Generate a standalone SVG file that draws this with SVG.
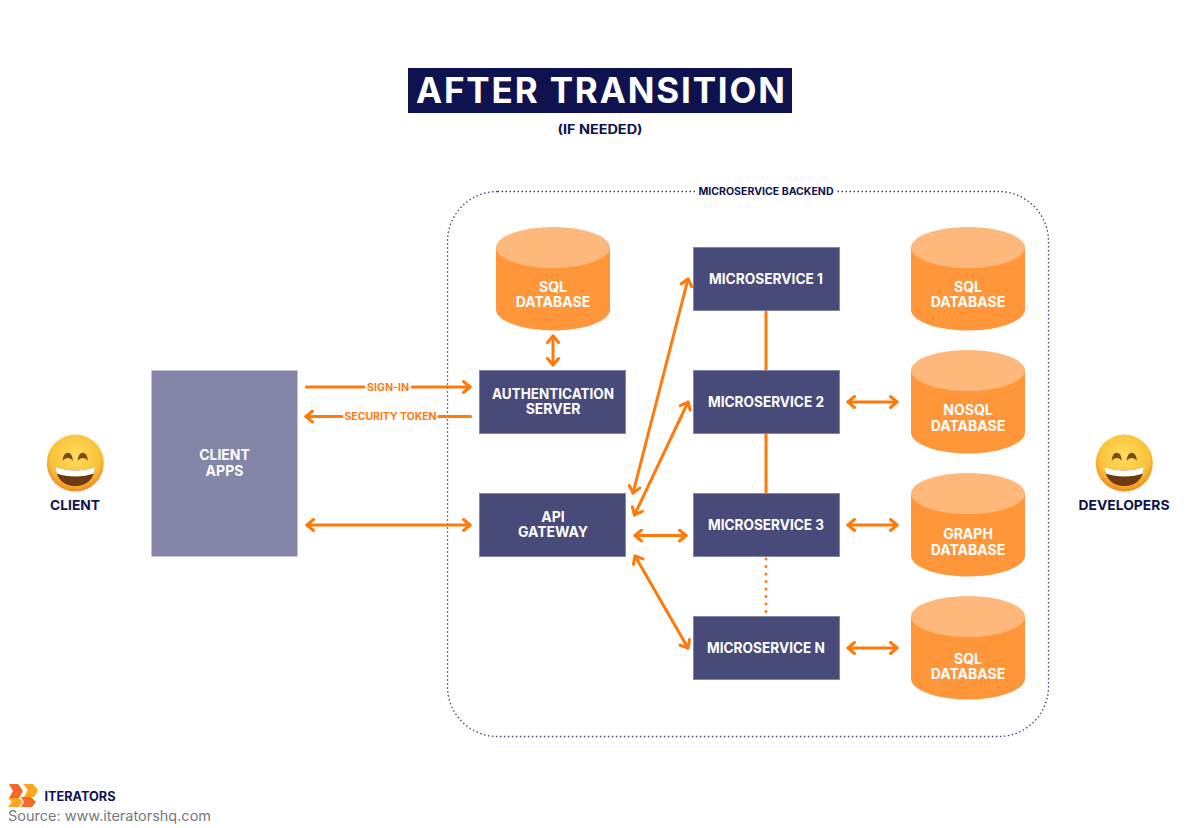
<svg xmlns="http://www.w3.org/2000/svg" width="1200" height="828" viewBox="0 0 1200 828">
<style>
text{font-family:"Inter","Liberation Sans",sans-serif;font-weight:700;text-anchor:middle}
.lbl{font-size:14px;fill:#fff}
.cap{font-size:13.5px;fill:#0e1350}
.box{fill:#484b7a;stroke:#8386a8;stroke-width:1}
.wire{fill:none;stroke:#ff7a0a;stroke-width:3;stroke-linecap:round}
.arrow{marker-start:url(#ah);marker-end:url(#ah)}
.one{marker-end:url(#ah)}
.cyl{fill:#ff963a}
.top{fill:#ffb87c}
.tag{font-size:10px;fill:#ff7a0a}
</style>
<defs>
<marker id="ah" viewBox="-9 -7 11 14" refX="0" refY="0" markerWidth="11" markerHeight="14" markerUnits="userSpaceOnUse" orient="auto-start-reverse">
<path d="M-6.500,-5.500L0,0L-6.500,5.500" fill="none" stroke="#ff7a0a" stroke-width="3" stroke-linecap="round" stroke-linejoin="round"/>
</marker>
<radialGradient id="face" cx="50%" cy="38%" r="62%">
<stop offset="0" stop-color="#fedc5c"/><stop offset="0.7" stop-color="#fbc23a"/><stop offset="1" stop-color="#ee8a1e"/>
</radialGradient>
<g id="emoji">
<circle cx="0" cy="0" r="28.500" fill="url(#face)"/>
<path d="M-12.500,-2C-12.500,-13 -2.500,-13 -2.500,-2C-4.500,-6 -10.500,-6 -12.500,-2Z" fill="#7a4a1a"/>
<path d="M2.500,-2C2.500,-13 12.500,-13 12.500,-2C10.500,-6 4.500,-6 2.500,-2Z" fill="#7a4a1a"/>
<path d="M-19.500,4C-8,8.500 8,8.500 19.500,4C19.500,16 11,23 0,23C-11,23 -19.500,16 -19.500,4Z" fill="#6e3a12"/>
<path d="M-19.500,4C-8,8.500 8,8.500 19.500,4C19.500,7 19,9 18.500,10.500C8,14.500 -8,14.500 -18.500,10.500C-19,9 -19.500,7 -19.500,4Z" fill="#fff"/>
</g>
<g id="db">
<path class="cyl" d="M-57,21V83C-57,94.500 -31.500,104 0,104C31.500,104 57,94.500 57,83V21Z"/>
<ellipse class="top" cx="0" cy="21" rx="57" ry="20.500"/>
</g>
</defs>
<rect width="1200" height="828" fill="#fff"/>

<g id="title">
<rect x="408" y="68" width="384" height="45" fill="#0e1350"/>
<text x="600.500" y="103" font-size="35" fill="#fff" textLength="369" lengthAdjust="spacing">AFTER TRANSITION</text>
<text x="600" y="134" font-size="12.500" fill="#0e1350" textLength="85" lengthAdjust="spacingAndGlyphs">(IF NEEDED)</text>
</g>

<g id="backend">
<rect x="447.500" y="191.500" width="601" height="545" rx="50" ry="50" fill="none" stroke="#3c3f75" stroke-width="1.300" stroke-dasharray="1.500 2.500"/>
<rect x="696" y="186" width="140" height="11" fill="#fff"/>
<text x="766" y="195" font-size="10" fill="#0e1350" textLength="135" lengthAdjust="spacingAndGlyphs">MICROSERVICE BACKEND</text>
</g>

<g id="connectors">
<path class="wire" d="M306.500,387H364"/>
<path class="wire one" d="M412,387H470"/>
<path class="wire one" d="M342,416.500H306"/>
<path class="wire" d="M439,416.500H470.500"/>
<path class="wire arrow" d="M307,525H470"/>
<path class="wire arrow" d="M553,336V365"/>
<path class="wire arrow" d="M633,493L688,279"/>
<path class="wire arrow" d="M634.500,515L688,402"/>
<path class="wire arrow" d="M635,535.500H686"/>
<path class="wire arrow" d="M635,556L688,648"/>
<path class="wire" d="M766,310V371"/>
<path class="wire" d="M766,433V494"/>
<path class="wire" d="M766,559V616" stroke-dasharray="0.100 7.400"/>
<path class="wire arrow" d="M848,402H897"/>
<path class="wire arrow" d="M848,525H897"/>
<path class="wire arrow" d="M848,648H897"/>
<text class="tag" x="388" y="391" textLength="42" lengthAdjust="spacingAndGlyphs">SIGN-IN</text>
<text class="tag" x="390.500" y="420" textLength="92" lengthAdjust="spacingAndGlyphs">SECURITY TOKEN</text>
</g>

<g id="client">
<use href="#emoji" x="75.300" y="463"/>
<text class="cap" x="75" y="510" textLength="50" lengthAdjust="spacingAndGlyphs">CLIENT</text>
</g>
<g id="client-apps">
<rect x="151.500" y="370.500" width="146" height="186" fill="#8486a8"/>
<text class="lbl" x="224.500" y="460">CLIENT</text>
<text class="lbl" x="224.500" y="476">APPS</text>
</g>
<g id="auth-server">
<rect class="box" x="479.500" y="370.500" width="146" height="63"/>
<text class="lbl" x="553" y="399" textLength="122" lengthAdjust="spacingAndGlyphs">AUTHENTICATION</text>
<text class="lbl" x="553" y="414">SERVER</text>
</g>
<g id="api-gateway">
<rect class="box" x="479.500" y="493.500" width="146" height="63"/>
<text class="lbl" x="553" y="522">API</text>
<text class="lbl" x="553" y="537">GATEWAY</text>
</g>
<g id="ms1">
<rect class="box" x="693.500" y="247.500" width="146" height="63"/>
<text class="lbl" x="766" y="284" textLength="114" lengthAdjust="spacingAndGlyphs">MICROSERVICE 1</text>
</g>
<g id="ms2">
<rect class="box" x="693.500" y="370.500" width="146" height="63"/>
<text class="lbl" x="766" y="407" textLength="116" lengthAdjust="spacingAndGlyphs">MICROSERVICE 2</text>
</g>
<g id="ms3">
<rect class="box" x="693.500" y="493.500" width="146" height="63"/>
<text class="lbl" x="766" y="530" textLength="116" lengthAdjust="spacingAndGlyphs">MICROSERVICE 3</text>
</g>
<g id="msn">
<rect class="box" x="693.500" y="616.500" width="146" height="63"/>
<text class="lbl" x="766" y="653" textLength="118" lengthAdjust="spacingAndGlyphs">MICROSERVICE N</text>
</g>
<g id="db-auth">
<use href="#db" x="553" y="226.500"/>
<text class="lbl" x="553" y="292">SQL</text>
<text class="lbl" x="553" y="307">DATABASE</text>
</g>
<g id="db1">
<use href="#db" x="968" y="226.500"/>
<text class="lbl" x="968" y="292">SQL</text>
<text class="lbl" x="968" y="307">DATABASE</text>
</g>
<g id="db2">
<use href="#db" x="968" y="349.500"/>
<text class="lbl" x="968" y="415">NOSQL</text>
<text class="lbl" x="968" y="431">DATABASE</text>
</g>
<g id="db3">
<use href="#db" x="968" y="472.500"/>
<text class="lbl" x="968" y="539">GRAPH</text>
<text class="lbl" x="968" y="555">DATABASE</text>
</g>
<g id="db4">
<use href="#db" x="968" y="595.500"/>
<text class="lbl" x="968" y="664">SQL</text>
<text class="lbl" x="968" y="679">DATABASE</text>
</g>
<g id="developers">
<use href="#emoji" x="1124.300" y="463"/>
<text class="cap" x="1124" y="510" textLength="91" lengthAdjust="spacingAndGlyphs">DEVELOPERS</text>
</g>
<g id="logo">
<polygon points="9,784 18,784 23,791 19,798 9,798 13,791" fill="#f4692a"/>
<polygon points="23,784 33,784 38,790 34,797 24,797 28,790" fill="#ffa51e"/>
<polygon points="8,798 19,798 23,802 19,807 8,807 12,802" fill="#ffa51e"/>
<polygon points="21,797 31,797 36,802 32,807 21,807 24,802" fill="#f4692a"/>
<text x="80" y="801" font-size="12.500" fill="#0e1350" textLength="71" lengthAdjust="spacingAndGlyphs">ITERATORS</text>
</g>
<text id="source" x="8" y="821" font-size="14" style="font-weight:400;text-anchor:start;fill:#77777c" textLength="203" lengthAdjust="spacingAndGlyphs">Source: www.iteratorshq.com</text>
</svg>
